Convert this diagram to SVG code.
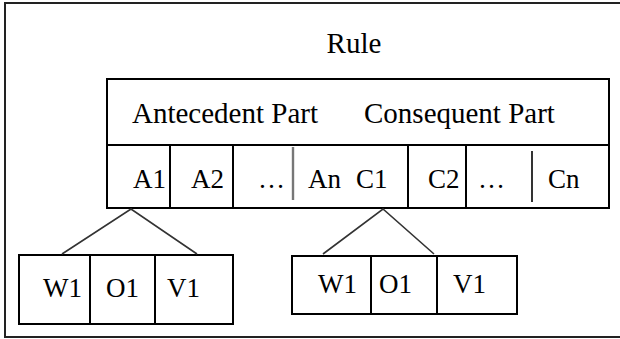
<svg xmlns="http://www.w3.org/2000/svg" width="620" height="339" viewBox="0 0 620 339">
  <style>
    .box { fill: none; stroke: #000; stroke-width: 2; }
    .cell { fill: #fff; stroke: #000; stroke-width: 2; }
    .frame { fill: none; stroke: #222; stroke-width: 2; }
    .link { fill: none; stroke: #333; stroke-width: 1.6; }
    .sep { stroke: #000; stroke-width: 1.6; }
    .sep-grey { stroke: #777; stroke-width: 2.4; }
    text { font-family: 'Liberation Serif', 'Times New Roman', serif; font-size: 27px; fill: #000; }
    .big { font-size: 29px; }
  </style>
  <rect width="620" height="339" fill="#fff"/>

  <!-- outer frame (right side runs past the canvas edge) -->
  <path class="frame" d="M 625 3 H 5 V 337 H 625"/>
  <text class="big" x="354" y="53" text-anchor="middle">Rule</text>

  <!-- rule record: antecedent and consequent parts -->
  <g id="rule">
    <rect class="cell" x="107" y="79" width="502" height="129"/>
    <line class="box" x1="107" y1="145" x2="609" y2="145"/>
    <text class="big" x="132" y="123">Antecedent Part</text>
    <text class="big" x="364" y="123">Consequent Part</text>
  </g>

  <g id="a1">
    <line class="box" x1="170" y1="145" x2="170" y2="208"/>
    <text x="133" y="188">A1</text>
  </g>
  <g id="a2">
    <line class="box" x1="233" y1="145" x2="233" y2="208"/>
    <text x="191" y="188">A2</text>
  </g>
  <g id="an">
    <text x="258" y="188">…</text>
    <line class="sep-grey" x1="293" y1="147" x2="293" y2="200"/>
    <text x="308" y="188">An</text>
  </g>
  <g id="c1">
    <line class="box" x1="408" y1="145" x2="408" y2="208"/>
    <text x="356" y="188">C1</text>
  </g>
  <g id="c2">
    <line class="box" x1="466" y1="145" x2="466" y2="208"/>
    <text x="428" y="188">C2</text>
  </g>
  <g id="cn">
    <text x="478" y="188">…</text>
    <line class="sep" x1="532" y1="151" x2="532" y2="202"/>
    <text x="548" y="188">Cn</text>
  </g>

  <!-- W/O/V triple under A1 -->
  <g id="triple-a1">
    <rect class="cell" x="19" y="255" width="214" height="69"/>
    <line class="box" x1="90" y1="255" x2="90" y2="324"/>
    <line class="box" x1="155" y1="255" x2="155" y2="324"/>
    <text x="43" y="297">W1</text>
    <text x="106" y="297">O1</text>
    <text x="167" y="297">V1</text>
  </g>

  <!-- W/O/V triple under C1 -->
  <g id="triple-c1">
    <rect class="cell" x="292" y="256" width="225" height="58"/>
    <line class="box" x1="371" y1="256" x2="371" y2="314"/>
    <line class="box" x1="437" y1="256" x2="437" y2="314"/>
    <text x="318" y="293">W1</text>
    <text x="379" y="293">O1</text>
    <text x="453" y="293">V1</text>
  </g>

  <g id="connectors">
    <polyline class="link" points="62,254 131,209 197,254"/>
    <polyline class="link" points="323,254 383,209 434,254"/>
  </g>
</svg>
